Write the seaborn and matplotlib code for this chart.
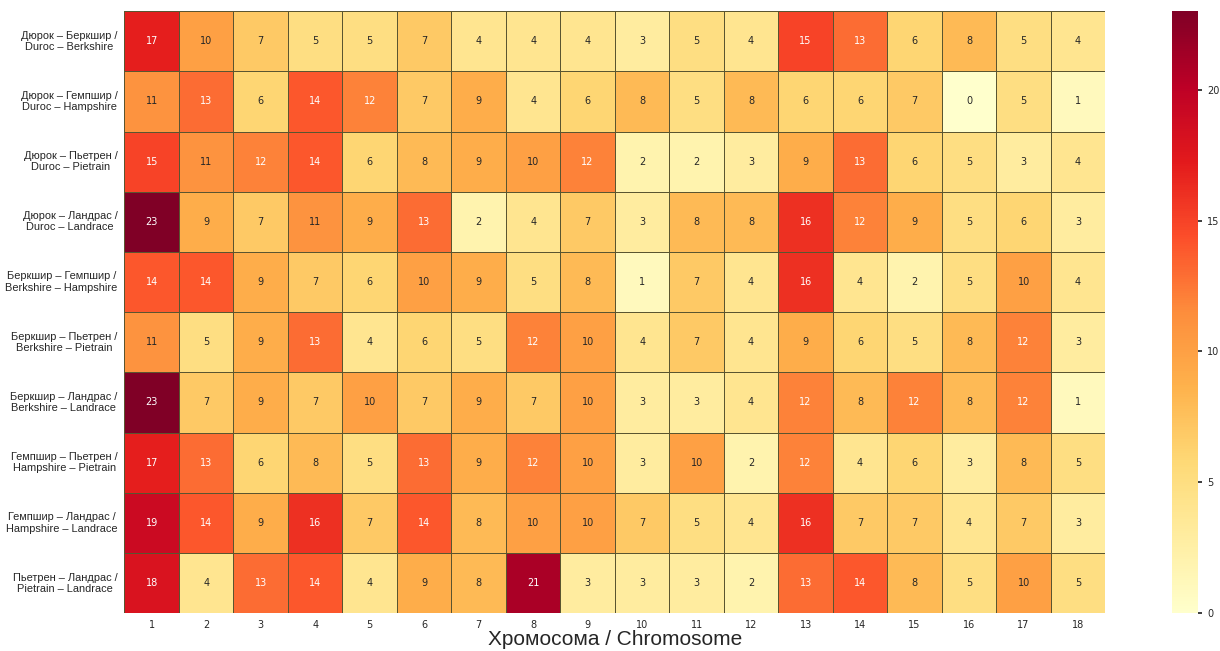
import numpy as np
import pandas as pd
import matplotlib
matplotlib.use("Agg")
import matplotlib.pyplot as plt
import seaborn as sns

# --- данные: число общих участков по хромосомам для пар пород ---
pairs = [
    "Дюрок – Беркшир /\nDuroc – Berkshire",
    "Дюрок – Гемпшир /\nDuroc – Hampshire",
    "Дюрок – Пьетрен /\nDuroc – Pietrain",
    "Дюрок – Ландрас /\nDuroc – Landrace",
    "Беркшир – Гемпшир /\nBerkshire – Hampshire",
    "Беркшир – Пьетрен /\nBerkshire – Pietrain",
    "Беркшир – Ландрас /\nBerkshire – Landrace",
    "Гемпшир – Пьетрен /\nHampshire – Pietrain",
    "Гемпшир – Ландрас /\nHampshire – Landrace",
    "Пьетрен – Ландрас /\nPietrain – Landrace",
]
chromosomes = [str(i) for i in range(1, 19)]

duroc_berkshire = [17, 10, 7, 5, 5, 7, 4, 4, 4, 3, 5, 4, 15, 13, 6, 8, 5, 4]
duroc_hampshire = [11, 13, 6, 14, 12, 7, 9, 4, 6, 8, 5, 8, 6, 6, 7, 0, 5, 1]
duroc_pietrain = [15, 11, 12, 14, 6, 8, 9, 10, 12, 2, 2, 3, 9, 13, 6, 5, 3, 4]
duroc_landrace = [23, 9, 7, 11, 9, 13, 2, 4, 7, 3, 8, 8, 16, 12, 9, 5, 6, 3]
berkshire_hampshire = [14, 14, 9, 7, 6, 10, 9, 5, 8, 1, 7, 4, 16, 4, 2, 5, 10, 4]
berkshire_pietrain = [11, 5, 9, 13, 4, 6, 5, 12, 10, 4, 7, 4, 9, 6, 5, 8, 12, 3]
berkshire_landrace = [23, 7, 9, 7, 10, 7, 9, 7, 10, 3, 3, 4, 12, 8, 12, 8, 12, 1]
hampshire_pietrain = [17, 13, 6, 8, 5, 13, 9, 12, 10, 3, 10, 2, 12, 4, 6, 3, 8, 5]
hampshire_landrace = [19, 14, 9, 16, 7, 14, 8, 10, 10, 7, 5, 4, 16, 7, 7, 4, 7, 3]
pietrain_landrace = [18, 4, 13, 14, 4, 9, 8, 21, 3, 3, 3, 2, 13, 14, 8, 5, 10, 5]

df = pd.DataFrame(
    [duroc_berkshire, duroc_hampshire, duroc_pietrain, duroc_landrace,
     berkshire_hampshire, berkshire_pietrain, berkshire_landrace,
     hampshire_pietrain, hampshire_landrace, pietrain_landrace],
    index=pairs, columns=chromosomes,
)

sns.set_theme(style="white")
plt.rcParams['font.family'] = ['DejaVu Sans']

fig = plt.figure(figsize=(12.2, 6.51), dpi=100)
ax = fig.add_axes([0.102, 0.058, 0.804, 0.925])
cax = fig.add_axes([0.961, 0.058, 0.021, 0.925])

sns.heatmap(
    df, ax=ax, cbar_ax=cax, cmap="YlOrRd", vmin=0, vmax=23,
    annot=True, fmt="d", annot_kws={"fontsize": 7},
    linewidths=0.5, linecolor="#5a5530",
)

# подписи строк: две строки, по центру
ax.set_yticklabels(ax.get_yticklabels(), rotation=0, fontsize=12,
                   family=['Liberation Sans', 'DejaVu Sans'],
                   multialignment='center', linespacing=1.15)
ax.set_xticklabels(ax.get_xticklabels(), rotation=0, fontsize=7)
ax.tick_params(axis='both', length=3, width=0.8, color='#444444', pad=2)
ax.set_ylabel('')
ax.set_xlabel('Хромосома / Chromosome', fontsize=15, labelpad=0,
              family=['Liberation Sans', 'DejaVu Sans'])

# подгоняем размер подписей строк под левое поле
fig.canvas.draw()
renderer = fig.canvas.get_renderer()
avail = 0.102 * 1220 - 12
fs = 12
for lab in ax.get_yticklabels():
    w = lab.get_window_extent(renderer).width
    if w > avail:
        fs = min(fs, 12 * avail / w)
for lab in ax.get_yticklabels():
    lab.set_fontsize(fs)

cax.tick_params(labelsize=7, length=3)
cax.set_yticks([0, 5, 10, 15, 20])

fig.savefig('out.png', dpi=100)
